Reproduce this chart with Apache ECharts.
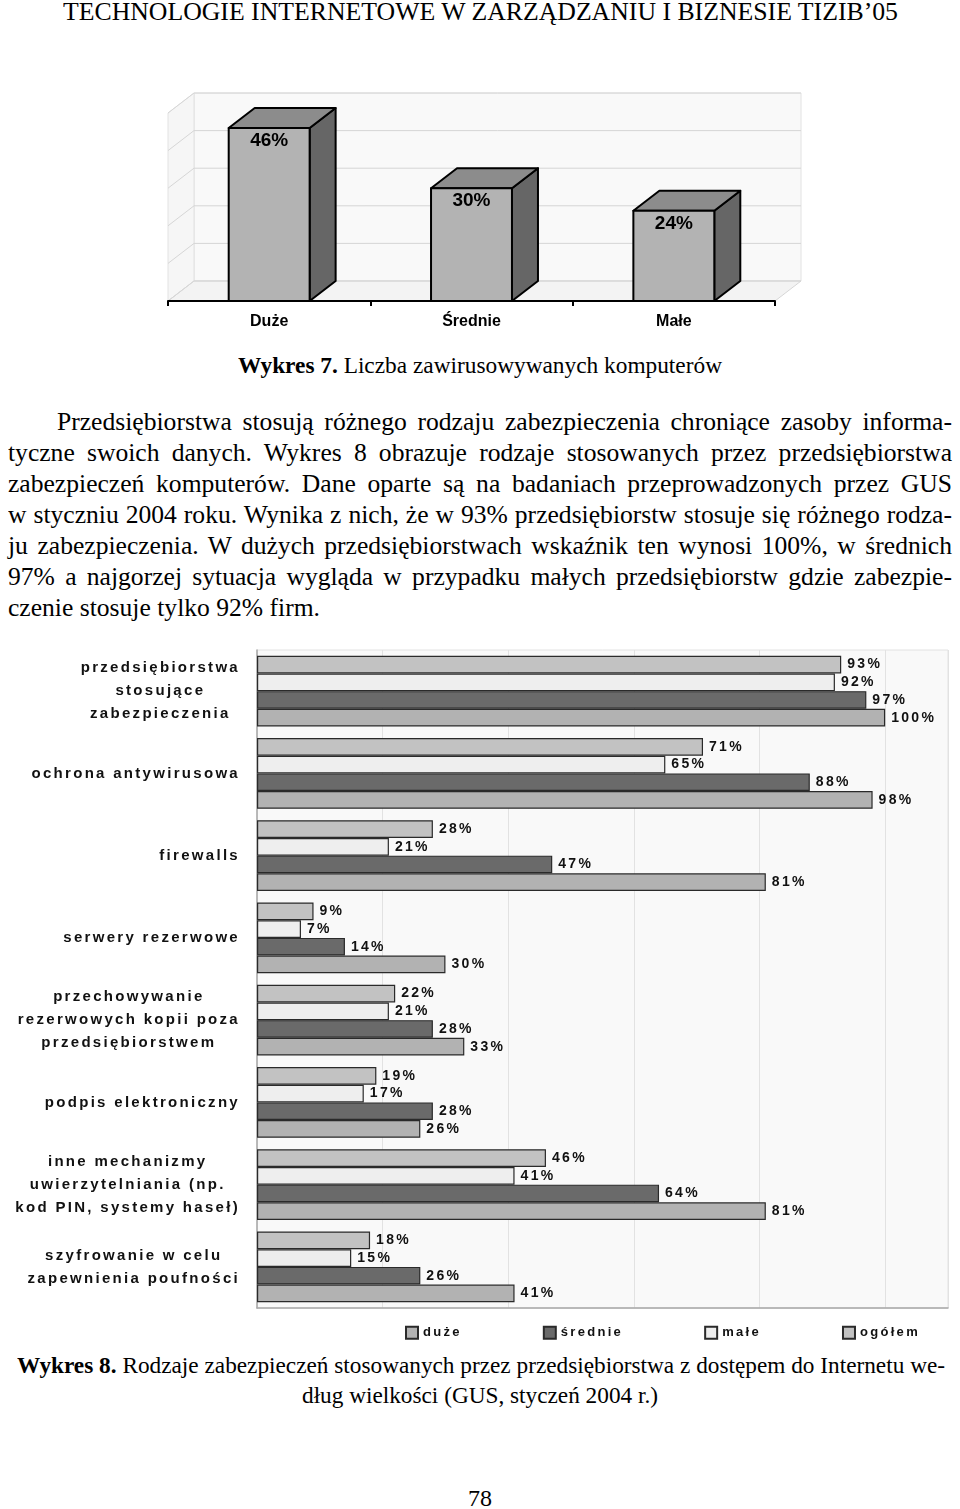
<!DOCTYPE html>
<html><head><meta charset="utf-8">
<script src="https://cdn.jsdelivr.net/npm/echarts@6/dist/echarts.min.js"></script>
<style>
html,body{margin:0;padding:0;background:#fff;}
body{width:960px;height:1509px;position:relative;overflow:hidden;font-family:"Liberation Serif","Times New Roman",serif;color:#000;}
.ln{position:absolute;white-space:nowrap;line-height:30px;height:30px;}
.ln span{display:inline-block;white-space:nowrap;transform-origin:0 50%;}
#c1{position:absolute;left:0;top:80px;width:960px;height:260px;}
#c2{position:absolute;left:0;top:640px;width:960px;height:700px;}
</style></head><body>
<div id="c1"></div><div id="c2"></div>
<script>
// ---------- data ----------
const sizeCats = ['Duże', 'Średnie', 'Małe'];
const infected = [46, 30, 24];
const wallTicks = [0, 10, 20, 30, 40, 50];

const securityCats = [
  'przedsiębiorstwa\nstosujące\nzabezpieczenia',
  'ochrona antywirusowa',
  'firewalls',
  'serwery rezerwowe',
  'przechowywanie\nrezerwowych kopii poza\nprzedsiębiorstwem',
  'podpis elektroniczny',
  'inne mechanizmy\nuwierzytelniania (np.\nkod PIN, systemy haseł)',
  'szyfrowanie w celu\nzapewnienia poufności'
];
const duze    = [100, 98, 81, 30, 33, 26, 81, 41];
const srednie = [97, 88, 47, 14, 28, 28, 64, 26];
const male    = [92, 65, 21, 7, 21, 17, 41, 15];
const ogolem  = [93, 71, 28, 9, 22, 19, 46, 18];
const legendNames = ['duże', 'średnie', 'małe', 'ogółem'];

// ---------- letter spacing for chart 2 text (font family marker "Arimo") ----------
const LS = '2.3px';
const F2 = '"Liberation Sans", Arimo';
const F1 = 'Arial, "Liberation Sans", sans-serif';
const mctx = document.createElement('canvas').getContext('2d');
if (echarts.setPlatformAPI) {
  echarts.setPlatformAPI({
    measureText: function (text, font) {
      mctx.font = font || '12px sans-serif';
      if ('letterSpacing' in mctx) mctx.letterSpacing = (font && font.indexOf('Arimo') >= 0) ? LS : '0px';
      return mctx.measureText(text);
    }
  });
}
(function () {
  const proto = CanvasRenderingContext2D.prototype;
  const orig = proto.fillText;
  proto.fillText = function (t, x, y, m) {
    if ('letterSpacing' in this) this.letterSpacing = (this.font.indexOf('Arimo') >= 0) ? LS : '0px';
    return m === undefined ? orig.call(this, t, x, y) : orig.call(this, t, x, y, m);
  };
})();

// ---------- page text ----------
function place(o) {
  const d = document.createElement('div');
  d.className = 'ln';
  d.style.left = o.l + 'px';
  d.style.top = (o.y - 16) + 'px';
  d.style.fontSize = o.s + 'px';
  const sp = document.createElement('span');
  sp.innerHTML = o.t;
  d.appendChild(sp);
  document.body.appendChild(d);
  return sp;
}
function fit(o) {
  const sp = place(o);
  const w = sp.getBoundingClientRect().width;
  const k = (o.r - o.l) / w;
  sp.style.transform = 'scaleX(' + k + ')';
  return k;
}
function just(o, k) {
  const sp = place(o);
  const w = sp.getBoundingClientRect().width;
  const spaces = (sp.textContent.match(/ /g) || []).length;
  const ws = ((o.r - o.l) / k - w) / Math.max(1, spaces);
  sp.style.wordSpacing = ws + 'px';
  sp.style.transform = 'scaleX(' + k + ')';
}
fit({t: 'TECHNOLOGIE INTERNETOWE W ZARZĄDZANIU I BIZNESIE TIZIB’05', l: 63, r: 898, y: 13, s: 25});
fit({t: '<b>Wykres 7.</b> Liczba zawirusowywanych komputerów', l: 238, r: 722, y: 367, s: 23});
const kb = fit({t: 'czenie stosuje tylko 92% firm.', l: 8, r: 320, y: 609, s: 25});
const body = [
  {t: 'Przedsiębiorstwa stosują różnego rodzaju zabezpieczenia chroniące zasoby informa-', l: 57, y: 423},
  {t: 'tyczne swoich danych. Wykres 8 obrazuje rodzaje stosowanych przez przedsiębiorstwa', l: 8, y: 454},
  {t: 'zabezpieczeń komputerów. Dane oparte są na badaniach przeprowadzonych przez GUS', l: 8, y: 485},
  {t: 'w styczniu 2004 roku. Wynika z nich, że w 93% przedsiębiorstw stosuje się różnego rodza-', l: 8, y: 516},
  {t: 'ju zabezpieczenia. W dużych przedsiębiorstwach wskaźnik ten wynosi 100%, w średnich', l: 8, y: 547},
  {t: '97% a najgorzej sytuacja wygląda w przypadku małych przedsiębiorstw gdzie zabezpie-', l: 8, y: 578}
];
body.forEach(o => just({t: o.t, l: o.l, r: 952, y: o.y, s: 25}, kb));
const kc = fit({t: 'dług wielkości (GUS, styczeń 2004 r.)', l: 302, r: 658, y: 1397, s: 23});
just({t: '<b>Wykres 8.</b> Rodzaje zabezpieczeń stosowanych przez przedsiębiorstwa z dostępem do Internetu we-', l: 17, r: 945, y: 1367, s: 23}, kc);
fit({t: '78', l: 468, r: 492, y: 1500, s: 23});

// ---------- chart 1 : 3D columns ----------
const DX = 26, DY = 20;
function wallRender(params, api) {
  const cs = params.coordSys;
  const v = api.value(1);
  const y = api.coord([0, v])[1];
  const L = cs.x, R = cs.x + cs.width, T = cs.y, B = cs.y + cs.height;
  const ln = {stroke: '#d6d6d6', lineWidth: 1};
  const ch = [];
  if (v === wallTicks[0]) {
    ch.push({type: 'polygon', shape: {points: [[L + DX, T - DY], [R + DX, T - DY], [R + DX, B - DY], [L + DX, B - DY]]}, style: {fill: '#f9f9f9', stroke: '#e2e2e2', lineWidth: 1}});
    ch.push({type: 'polygon', shape: {points: [[L, T], [L + DX, T - DY], [L + DX, B - DY], [L, B]]}, style: {fill: '#f6f6f6', stroke: '#e2e2e2', lineWidth: 1}});
    ch.push({type: 'polygon', shape: {points: [[L, B], [L + DX, B - DY], [R + DX, B - DY], [R, B]]}, style: {fill: '#f3f3f3', stroke: '#d6d6d6', lineWidth: 1}});
  }
  ch.push({type: 'line', shape: {x1: L, y1: y, x2: L + DX, y2: y - DY}, style: ln});
  ch.push({type: 'line', shape: {x1: L + DX, y1: y - DY, x2: R + DX, y2: y - DY}, style: ln});
  return {type: 'group', children: ch};
}
function barRender(params, api) {
  const i = api.value(0), v = api.value(1);
  const top = api.coord([i, v]), base = api.coord([i, 0]);
  const w = api.size([1, 0])[0] * 0.4;
  const x0 = top[0] - w / 2, x1 = top[0] + w / 2, y0 = top[1], yb = base[1];
  const st = (f) => ({fill: f, stroke: '#000', lineWidth: 2, lineJoin: 'round'});
  return {type: 'group', children: [
    {type: 'polygon', shape: {points: [[x1, y0], [x1 + DX, y0 - DY], [x1 + DX, yb - DY], [x1, yb]]}, style: st('#666666')},
    {type: 'polygon', shape: {points: [[x0, y0], [x0 + DX, y0 - DY], [x1 + DX, y0 - DY], [x1, y0]]}, style: st('#8c8c8c')},
    {type: 'rect', shape: {x: x0, y: y0, width: w, height: yb - y0}, style: st('#b3b3b3')},
    {type: 'text', style: {text: v + '%', x: top[0], y: y0 + 13, align: 'center', verticalAlign: 'middle', textAlign: 'center', textVerticalAlign: 'middle', font: 'bold 19px ' + F1, fill: '#000'}}
  ]};
}
const c1 = echarts.init(document.getElementById('c1'), null, {renderer: 'canvas'});
c1.setOption({
  animation: false,
  grid: {left: 168, right: 185, top: 33, bottom: 39},
  xAxis: {
    type: 'category', data: sizeCats, z: 5,
    axisLine: {lineStyle: {color: '#000', width: 2}},
    axisTick: {show: true, length: 5, lineStyle: {color: '#000', width: 2}},
    axisLabel: {color: '#000', fontWeight: 'bold', fontSize: 16, fontFamily: F1, margin: 13}
  },
  yAxis: {type: 'value', min: 0, max: 50, interval: 10, show: false},
  series: [
    {type: 'custom', z: 1, silent: true, data: wallTicks.map(v => [0, v]), renderItem: wallRender},
    {type: 'custom', z: 2, silent: true, data: infected.map((v, i) => [i, v]), renderItem: barRender}
  ]
});

// ---------- chart 2 : horizontal grouped bars ----------
const barColors = {'duże': '#b2b2b2', 'średnie': '#6a6a6a', 'małe': '#eeeeee', 'ogółem': '#c2c2c2'};
function mk(name, data) {
  return {
    name: name, type: 'bar', data: data, barGap: '0%', barCategoryGap: '14%',
    itemStyle: {color: barColors[name], borderColor: '#2a2a2a', borderWidth: 1.2},
    emphasis: {disabled: true},
    label: {show: true, position: 'right', distance: 6, formatter: '{c}%', fontFamily: F2, fontWeight: 'bold', fontSize: 14, color: '#111'}
  };
}
const c2 = echarts.init(document.getElementById('c2'), null, {renderer: 'canvas'});
c2.setOption({
  animation: false,
  grid: {left: 257, right: 12, top: 10, bottom: 32, show: true, backgroundColor: '#f9f9f9', borderColor: '#e2e2e2', borderWidth: 1},
  legend: {
    data: legendNames, left: 400, top: 680, itemWidth: 12, itemHeight: 12, itemGap: 81, icon: 'rect',
    textStyle: {fontFamily: F2, fontWeight: 'bold', fontSize: 13, color: '#111'}
  },
  xAxis: {
    type: 'value', min: 0, max: 110, interval: 20,
    axisLabel: {show: false}, axisTick: {show: false},
    axisLine: {show: true, lineStyle: {color: '#a8a8a8', width: 1.5}},
    splitLine: {lineStyle: {color: '#e2e2e2'}}
  },
  yAxis: {
    type: 'category', inverse: true, data: securityCats,
    axisTick: {show: false},
    axisLine: {lineStyle: {color: '#a8a8a8', width: 1.5}},
    axisLabel: {
      interval: 0, margin: 17,
      formatter: v => v.split('\n').map(s => '{c|' + s + '}').join('\n'),
      rich: {c: {align: 'center', fontFamily: F2, fontWeight: 'bold', fontSize: 15, lineHeight: 23, color: '#111'}}
    }
  },
  series: [mk('ogółem', ogolem), mk('małe', male), mk('średnie', srednie), mk('duże', duze)]
});
</script>
</body></html>
